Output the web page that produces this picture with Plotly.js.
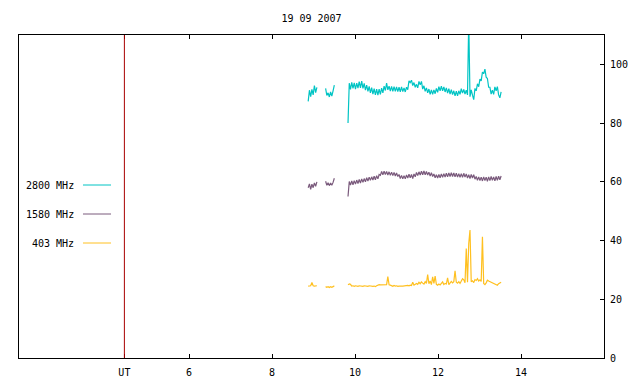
<!DOCTYPE html>
<html>
<head>
<meta charset="utf-8">
<script src="https://cdn.plot.ly/plotly-3.0.1.min.js"></script>
<style>html,body{margin:0;padding:0;background:#fff;}#chart{width:640px;height:384px;}</style>
</head>
<body>
<div id="chart"></div>
<script>
// Sampling grid (hours UT) for the three observation segments
const segStart = [8.87, 9.29, 9.83];
const segStep = 0.03;

// 2800 MHz
const f2800_A = [87.4, 91.2, 89.0, 91.5, 89.6, 92.8, 90.4, 92.2];
const f2800_B = [91.8, 89.4, 90.3, 88.9, 90.6, 89.2, 91.0, 92.9];
const f2800_C = [
  80.0, 93.6, 91.5, 93.9, 91.8, 93.7, 91.6, 93.6, 91.9, 94.1,
  92.0, 94.3, 91.8, 93.5, 91.2, 92.9, 90.8, 92.5, 90.3, 92.1,
  89.9, 91.7, 89.6, 91.6, 89.5, 91.6, 89.8, 91.9, 90.3, 92.6,
  91.1, 93.6, 91.3, 92.6, 90.9, 92.5, 90.8, 92.4, 90.8, 92.3,
  90.7, 92.2, 90.6, 92.3, 90.7, 92.0, 90.6, 92.2, 91.4, 94.4,
  93.8, 94.6, 92.8, 93.8, 92.2, 93.2, 92.0, 94.2, 93.0, 94.2,
  91.6, 92.7, 90.8, 92.0, 90.3, 91.6, 89.8, 91.3, 89.8, 91.3,
  90.0, 91.8, 90.5, 92.4, 91.0, 92.6, 91.0, 92.3, 90.6, 92.0,
  90.2, 91.7, 89.9, 91.4, 89.7, 91.0, 89.3, 90.9, 89.3, 91.0,
  89.8, 91.7, 90.2, 91.5, 89.9, 91.2, 89.6, 115.0, 89.0, 91.3,
  89.5, 88.0, 91.8, 91.0, 93.4, 92.4, 95.0, 94.4, 97.4, 96.8,
  98.4, 95.6, 95.2, 92.2, 92.2, 89.9, 91.2, 89.8, 92.3, 91.0,
  92.4, 89.6, 88.6, 90.6
];

// 1580 MHz
const f1580_A = [58.0, 59.3, 57.4, 59.2, 58.0, 59.6, 58.5, 60.0];
const f1580_B = [60.2, 58.8, 59.7, 58.7, 59.6, 58.8, 59.8, 61.2];
const f1580_C = [
  55.0, 60.1, 58.9, 60.3, 59.0, 60.4, 59.2, 60.6, 59.4, 60.8,
  59.6, 61.0, 59.8, 61.1, 60.0, 61.4, 60.3, 61.6, 60.5, 61.7,
  60.6, 61.9, 60.7, 62.1, 61.0, 62.5, 62.2, 63.5, 62.4, 63.6,
  62.5, 63.5, 62.3, 63.4, 62.2, 63.3, 62.1, 63.2, 62.0, 63.0,
  61.8, 62.5, 61.1, 62.2, 61.0, 62.1, 61.0, 62.3, 61.3, 62.6,
  61.4, 62.5, 61.1, 62.7, 61.7, 63.2, 62.1, 63.4, 62.3, 63.6,
  62.4, 63.7, 62.4, 63.5, 62.3, 63.3, 62.0, 63.1, 61.8, 62.7,
  61.4, 62.4, 61.3, 62.5, 61.4, 62.7, 61.5, 62.8, 61.6, 62.9,
  61.7, 63.0, 61.8, 63.1, 61.8, 63.0, 61.7, 62.9, 61.6, 62.8,
  61.5, 62.8, 61.5, 62.9, 61.6, 62.7, 61.3, 62.4, 61.1, 62.5,
  61.3, 62.4, 60.9, 61.8, 60.5, 61.7, 60.4, 61.6, 60.3, 61.7,
  60.4, 61.6, 60.2, 61.7, 60.4, 61.8, 60.5, 61.7, 60.3, 61.8,
  60.5, 61.9, 60.7, 62.0
];

// 403 MHz
const f403_A = [24.5, 24.5, 24.6, 25.7, 24.6, 24.5, 24.5, 24.6];
const f403_B = [24.3, 24.1, 24.3, 24.0, 24.3, 24.1, 24.3, 24.6];
const f403_C = [
  24.9, 25.2, 25.1, 24.5, 24.6, 24.4, 24.6, 24.5, 24.4, 24.6,
  24.5, 24.5, 24.4, 24.6, 24.5, 24.5, 24.4, 24.6, 24.5, 24.5,
  24.4, 24.5, 24.3, 24.6, 24.9, 25.0, 24.9, 24.9, 25.0, 24.9,
  24.9, 25.0, 27.7, 24.9, 24.8, 24.6, 24.4, 24.7, 24.5, 24.6,
  24.4, 24.5, 24.6, 24.5, 24.5, 24.6, 24.5, 24.6, 24.7, 24.6,
  24.8, 24.7, 25.8, 24.8, 25.0, 25.4, 25.1, 25.8, 25.3, 25.9,
  25.5, 25.2, 26.0, 25.4, 28.4, 25.3, 26.2, 25.0, 27.6, 25.4,
  27.9, 25.1, 24.8, 25.2, 24.9, 25.3, 25.9, 25.0, 25.4, 25.2,
  27.3, 25.0, 25.5, 26.1, 25.6, 26.0, 29.7, 25.8, 25.5, 26.0,
  25.4, 26.3, 27.0, 26.6, 25.6, 37.3, 25.8, 39.0, 43.6, 26.0,
  26.3, 25.7, 26.7, 26.4, 27.0, 26.2, 26.6, 26.1, 41.3, 25.4,
  25.0, 25.6, 26.5, 26.2, 26.0, 25.7, 25.6, 25.3, 25.2, 24.9,
  24.8, 25.3, 25.7, 25.8
];

const seriesNames = ['2800 MHz', '1580 MHz', '403 MHz'];
const seriesColors = ['#00c4c4', '#7a5a7c', '#ffc020'];
const xTickVals = [4.44, 6, 8, 10, 12, 14];
const xTickText = ['UT', '6', '8', '10', '12', '14'];
const yTickVals = [0, 20, 40, 60, 80, 100];
const utMarker = 4.44;

function times(start, n) {
  const t = [];
  for (let i = 0; i < n; i++) t.push(+(start + i * segStep).toFixed(3));
  return t;
}
function joinSegs(a, b, c) {
  const tA = times(segStart[0], a.length), tB = times(segStart[1], b.length), tC = times(segStart[2], c.length);
  const x = tA.concat([tA[tA.length - 1] + 0.01], tB, [tB[tB.length - 1] + 0.01], tC);
  const y = a.concat([null], b, [null], c);
  return {x, y};
}

const data = [[f2800_A, f2800_B, f2800_C], [f1580_A, f1580_B, f1580_C], [f403_A, f403_B, f403_C]];
const traces = data.map((s, k) => {
  const d = joinSegs(s[0], s[1], s[2]);
  return {x: d.x, y: d.y, type: 'scatter', mode: 'lines', name: seriesNames[k],
          line: {color: seriesColors[k], width: 1.2}, connectgaps: false, hoverinfo: 'skip'};
});

const font = {family: 'DejaVu Sans Mono, monospace', size: 10, color: '#000'};
const legendY = [0.5356, 0.4458, 0.356];
const shapes = [{type: 'line', xref: 'x', yref: 'paper', x0: utMarker, x1: utMarker, y0: 0, y1: 1,
                 line: {color: '#a80000', width: 1}}];
const annotations = [];
seriesNames.forEach((n, k) => {
  shapes.push({type: 'line', xref: 'paper', yref: 'paper', x0: 0.1094, x1: 0.1573, y0: legendY[k], y1: legendY[k],
               line: {color: seriesColors[k], width: 1}});
  annotations.push({xref: 'paper', yref: 'paper', x: 0.0974, y: legendY[k], xanchor: 'right', yanchor: 'middle',
                    text: n, showarrow: false, font: font});
});

const layout = {
  width: 640, height: 384,
  margin: {l: 19, r: 36, t: 35, b: 26},
  paper_bgcolor: '#fff', plot_bgcolor: '#fff',
  font: font,
  showlegend: false,
  title: {text: '19 09 2007', font: font, x: 0.5, xref: 'paper', xanchor: 'center', y: 0.953, yanchor: 'middle'},
  xaxis: {range: [1.9, 16], tickvals: xTickVals, ticktext: xTickText, ticks: 'inside', ticklen: 4,
          tickcolor: '#000', showline: true, linecolor: '#000', linewidth: 1, mirror: 'ticks',
          showgrid: false, zeroline: false, tickfont: font, fixedrange: true, ticklabelstandoff: 5},
  yaxis: {range: [0, 110], side: 'right', tickvals: yTickVals, ticks: 'inside', ticklen: 4,
          tickcolor: '#000', showline: true, linecolor: '#000', linewidth: 1, mirror: true,
          showgrid: false, zeroline: false, tickfont: font, fixedrange: true, ticklabelstandoff: 3},
  shapes: shapes,
  annotations: annotations
};

Plotly.newPlot('chart', traces, layout, {staticPlot: true, displayModeBar: false});
</script>
</body>
</html>
